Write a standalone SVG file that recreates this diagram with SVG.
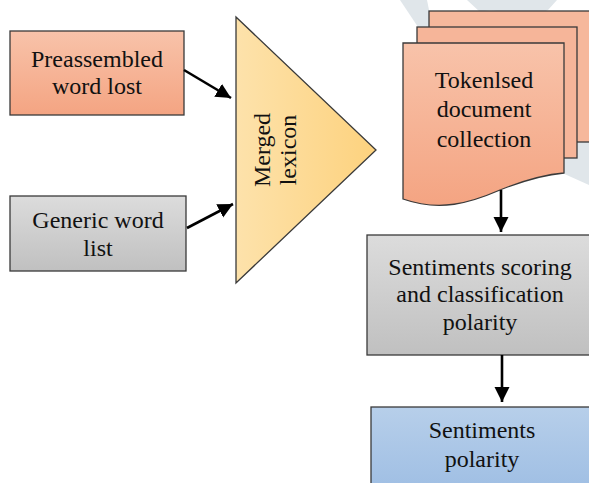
<svg xmlns="http://www.w3.org/2000/svg" width="589" height="483" viewBox="0 0 589 483">
<defs>
<linearGradient id="gOrange" x1="0" y1="0" x2="0" y2="1"><stop offset="0" stop-color="#f8c3aa"/><stop offset="1" stop-color="#f4a482"/></linearGradient>
<linearGradient id="gGray" x1="0" y1="0" x2="0" y2="1"><stop offset="0" stop-color="#dcdcdc"/><stop offset="1" stop-color="#c0c0c0"/></linearGradient>
<linearGradient id="gYellow" x1="0" y1="0" x2="1" y2="0"><stop offset="0" stop-color="#fde2ab"/><stop offset="1" stop-color="#fdd27e"/></linearGradient>
<linearGradient id="gBlue" x1="0" y1="0" x2="0" y2="1"><stop offset="0" stop-color="#b7cfea"/><stop offset="1" stop-color="#9dbde3"/></linearGradient>
<marker id="ah" markerUnits="userSpaceOnUse" markerWidth="16" markerHeight="16" refX="15" refY="7.5" orient="auto">
<path d="M0,0 L15,7.5 L0,15 z" fill="#000"/>
</marker>
<style>
.box{stroke:#3a3a3a;stroke-width:1.3}
.t{font-family:"Liberation Serif","Times New Roman",serif;font-size:24px;fill:#111;text-anchor:middle}
.c{stroke:#000;stroke-width:2.6;fill:none;marker-end:url(#ah)}
</style>
</defs>
<rect width="589" height="483" fill="#fff"/>
<g id="watermark" fill="#e0e6ea" stroke="none">
<path d="M400,0 L427,0 L433,30 L420,30 Z"/>
<path d="M467,0 L557,0 L548,10 Q530,20 512,14 Q490,8 480,12 Z"/>
<path d="M560,145 L589,140 L589,185 L560,172 Z"/>
</g>
<g id="preassembled">
<rect class="box" x="10" y="31" width="174" height="84" fill="url(#gOrange)"/>
<text class="t" x="97" y="67">Preassembled</text>
<text class="t" x="97" y="94">word lost</text>
</g>
<g id="generic">
<rect class="box" x="10" y="196" width="176" height="75" fill="url(#gGray)"/>
<text class="t" x="98" y="228">Generic word</text>
<text class="t" x="98" y="256">list</text>
</g>
<g id="merged">
<path class="box" d="M236,17 L376,150 L236,283 Z" fill="url(#gYellow)"/>
<text class="t" transform="translate(270,150) rotate(-90)">Merged</text>
<text class="t" transform="translate(296,150) rotate(-90)">lexicon</text>
</g>
<g id="documents">
<rect class="box" x="429" y="11" width="170" height="131" fill="#f6b89c"/>
<rect class="box" x="417" y="27" width="160" height="131" fill="#f6b599"/>
<path class="box" d="M403,43 H564 V173 C540,175 520,182 500,190 C470,203 440,212 403,199 Z" fill="url(#gOrange)"/>
<text class="t" x="484" y="88">Tokenlsed</text>
<text class="t" x="484" y="117">document</text>
<text class="t" x="484" y="147">collection</text>
</g>
<g id="scoring">
<rect class="box" x="367" y="235" width="230" height="120" fill="url(#gGray)"/>
<text class="t" x="480" y="275">Sentiments scoring</text>
<text class="t" x="480" y="302">and classification</text>
<text class="t" x="480" y="330">polarity</text>
</g>
<g id="polarity">
<rect class="box" x="371" y="407" width="230" height="90" fill="url(#gBlue)"/>
<text class="t" x="482" y="438">Sentiments</text>
<text class="t" x="482" y="467">polarity</text>
</g>
<g id="connectors">
<line class="c" x1="184" y1="70" x2="231" y2="98"/>
<line class="c" x1="187" y1="228" x2="233" y2="204"/>
<line class="c" x1="501" y1="190" x2="501" y2="232"/>
<line class="c" x1="502" y1="355" x2="502" y2="402"/>
</g>
</svg>
